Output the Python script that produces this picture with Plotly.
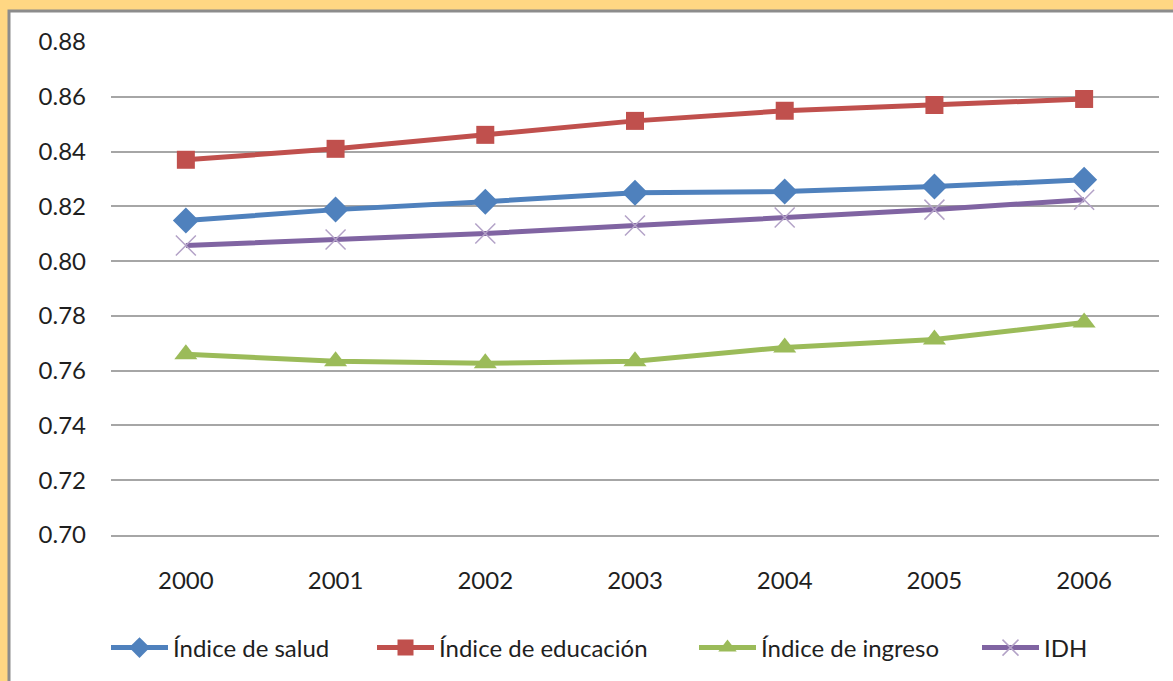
import plotly.graph_objects as go

years = ["2000", "2001", "2002", "2003", "2004", "2005", "2006"]
salud = [0.8148, 0.8188, 0.8217, 0.8250, 0.8254, 0.8272, 0.8297]
educacion = [0.8370, 0.8410, 0.8461, 0.8512, 0.8549, 0.8570, 0.8592]
ingreso = [0.7660, 0.7634, 0.7627, 0.7634, 0.7685, 0.7714, 0.7776]
idh = [0.8057, 0.8079, 0.8101, 0.8130, 0.8159, 0.8188, 0.8224]
y_ticks = [0.70, 0.72, 0.74, 0.76, 0.78, 0.80, 0.82, 0.84, 0.86, 0.88]

W, H = 1173, 681
ML, MR, MT, MB = 111, 14, 42, 145
pw, ph = W - ML - MR, H - MT - MB

def px(x):
    return (x - ML) / pw

def py(y):
    return (H - MB - y) / ph

FONT = "Lato, Carlito, Calibri, sans-serif"
FS = 24

legend_x = [106, 372, 694, 977]

fig = go.Figure()
fig.add_trace(go.Scatter(x=years, y=salud, name="Índice de salud", mode="lines+markers",
                         line=dict(color="#4F81BD", width=5), legend="legend",
                         marker=dict(symbol="diamond", size=20, color="#4F81BD")))
fig.add_trace(go.Scatter(x=years, y=educacion, name="Índice de educación", mode="lines+markers",
                         line=dict(color="#C0504D", width=5), legend="legend2",
                         marker=dict(symbol="square", size=18, color="#C0504D")))
fig.add_trace(go.Scatter(x=years, y=ingreso, name="Índice de ingreso", mode="lines+markers",
                         line=dict(color="#9BBB59", width=5), legend="legend3",
                         marker=dict(symbol="triangle-up", size=20, color="#9BBB59")))
fig.add_trace(go.Scatter(x=years, y=idh, name="IDH", mode="lines+markers",
                         line=dict(color="#8064A2", width=5), legend="legend4",
                         marker=dict(symbol="x-thin", size=20, color="#B3A2C7",
                                     line=dict(color="#B3A2C7", width=1.5))))

# frame: orange background with a white panel inset and a gray edge
fig.add_shape(type="rect", xref="paper", yref="paper", layer="below",
              x0=px(9), x1=px(W + 20), y0=py(H + 20), y1=py(11),
              fillcolor="white", line=dict(color="#8C8C8C", width=3))

def leg(xpix):
    return dict(orientation="h", x=px(xpix), xanchor="left", y=py(648), yanchor="middle",
                itemwidth=57, font=dict(family=FONT, size=FS, color="#1F1F1F"),
                bgcolor="rgba(0,0,0,0)", itemclick=False, itemdoubleclick=False)

fig.update_layout(
    width=W, height=H,
    margin=dict(l=ML, r=MR, t=MT, b=MB),
    paper_bgcolor="#FFD783",
    plot_bgcolor="rgba(0,0,0,0)",
    font=dict(family=FONT, size=FS, color="#1F1F1F"),
    showlegend=True,
    legend=leg(legend_x[0]),
    legend2=leg(legend_x[1]),
    legend3=leg(legend_x[2]),
    legend4=leg(legend_x[3]),
    xaxis=dict(type="category", range=[-0.5, 6.5], showgrid=False, showline=True,
               linecolor="#A6A6A6", linewidth=1.5,
               zeroline=False, ticks="", ticklabelstandoff=23, fixedrange=True),
    yaxis=dict(range=[0.70, 0.88], tickvals=y_ticks, tickformat=".2f",
               showgrid=True, gridcolor="#A6A6A6", gridwidth=1.5, zeroline=False,
               showline=False, ticks="", ticklabelstandoff=24, fixedrange=True),
)

fig.write_html("out.html", config={"displayModeBar": False},
               post_script="document.body.style.margin='0';document.body.style.background='#FFD783';")
